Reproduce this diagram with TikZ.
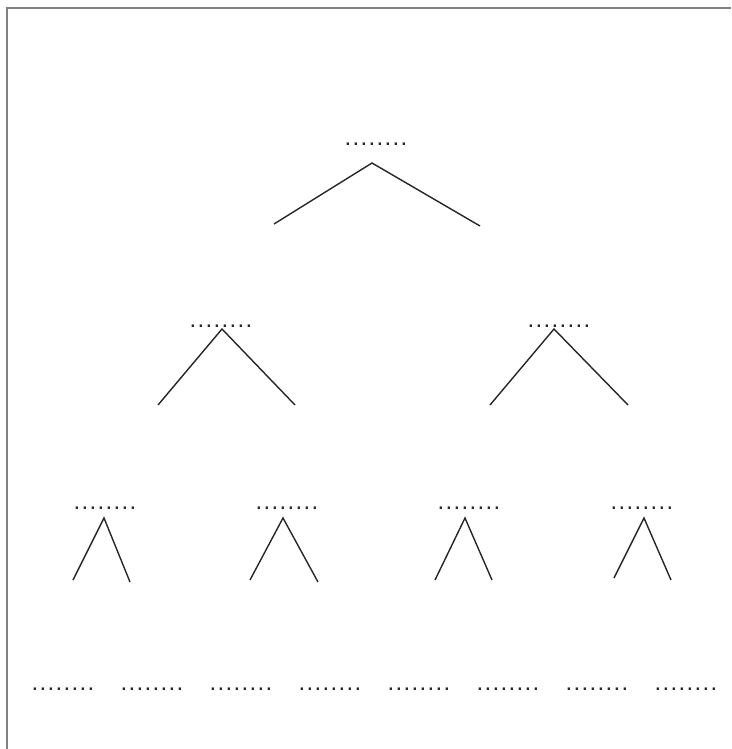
\documentclass[tikz,border=0pt]{standalone}
\usepackage{fontspec}
\setmainfont{Liberation Sans}
\newfontfamily\dotfont[LetterSpace=5.5]{Liberation Sans}
\begin{document}
\begin{tikzpicture}[x=1pt,y=-1pt,
  dotlabel/.style={inner sep=0pt,anchor=base,text=black!85,font=\dotfont\fontsize{24}{26}\selectfont},
  branch/.style={line width=1.4pt,draw=black!85},
  frameline/.style={line width=1.6pt,draw=black!50}]
\useasboundingbox (0,0) rectangle (731,749);
\draw[frameline] (7,749) -- (7,8) -- (731,8);
% level 1
\node[dotlabel] (r) at (376,146) {........};
\coordinate (ra) at (372,163);
\coordinate (rl) at (274,224);
\coordinate (rr) at (480,226);
\draw[branch] (rl) -- (ra) -- (rr);
% level 2
\node[dotlabel] (a) at (221,327) {........};
\node[dotlabel] (b) at (559,327) {........};
\coordinate (aa) at (222,329);
\coordinate (al) at (158,405);
\coordinate (ar) at (295,405);
\coordinate (ba) at (554,329);
\coordinate (bl) at (490,405);
\coordinate (br) at (628,405);
\draw[branch] (al) -- (aa) -- (ar);
\draw[branch] (bl) -- (ba) -- (br);
% level 3
\node[dotlabel] (c1) at (105,509) {........};
\node[dotlabel] (c2) at (287,509) {........};
\node[dotlabel] (c3) at (469,509) {........};
\node[dotlabel] (c4) at (642,509) {........};
\coordinate (c1a) at (104,518); \coordinate (c1l) at (73,580); \coordinate (c1r) at (130,582);
\coordinate (c2a) at (283,518); \coordinate (c2l) at (250,580); \coordinate (c2r) at (318,582);
\coordinate (c3a) at (465,518); \coordinate (c3l) at (435,580); \coordinate (c3r) at (492,580);
\coordinate (c4a) at (644,518); \coordinate (c4l) at (614,578); \coordinate (c4r) at (671,580);
\draw[branch] (c1l) -- (c1a) -- (c1r);
\draw[branch] (c2l) -- (c2a) -- (c2r);
\draw[branch] (c3l) -- (c3a) -- (c3r);
\draw[branch] (c4l) -- (c4a) -- (c4r);
% level 4
\node[dotlabel] (d1) at (63,690) {........};
\node[dotlabel] (d2) at (152,690) {........};
\node[dotlabel] (d3) at (241,690) {........};
\node[dotlabel] (d4) at (330,690) {........};
\node[dotlabel] (d5) at (419,690) {........};
\node[dotlabel] (d6) at (508,690) {........};
\node[dotlabel] (d7) at (597,690) {........};
\node[dotlabel] (d8) at (686,690) {........};
\end{tikzpicture}
\end{document}
